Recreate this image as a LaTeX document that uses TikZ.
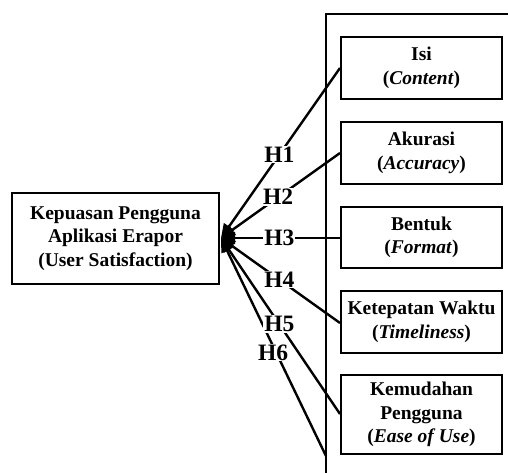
\documentclass[tikz,border=0pt]{standalone}
\usepackage{fontspec}
\setmainfont{Liberation Serif}
\usetikzlibrary{arrows.meta}
\begin{document}
\begin{tikzpicture}[x=1pt,y=-1pt,
  varbox/.style={draw,line width=2pt,minimum width=161pt,align=center,inner sep=0pt,
     font=\fontsize{19.5}{23.5}\selectfont\bfseries},
  conn/.style={line width=2.4pt,-{Triangle[length=14pt,width=12pt]}},
  hlab/.style={fill=white,inner sep=1pt,font=\fontsize{23.5}{23.5}\selectfont\bfseries}]
\useasboundingbox (0,0) rectangle (508,472);
\fill[white] (0,0) rectangle (508,472);
% frame
\draw[line width=2.6pt] (326,480) -- (326,14) -- (515,14);
% boxes
\node[varbox,minimum height=62pt] (isi) at (421.5,68) {Isi\\(\textit{Content})};
\node[varbox,minimum height=62pt] (aku) at (421.5,153) {Akurasi\\(\textit{Accuracy})};
\node[varbox,minimum height=61pt] (ben) at (421.5,237.5) {Bentuk\\(\textit{Format})};
\node[varbox,minimum height=62pt] (ket) at (421.5,322) {Ketepatan Waktu\\(\textit{Timeliness})};
\node[varbox,minimum height=79pt] (kem) at (421.5,414.5) {Kemudahan\\Pengguna\\(\textit{Ease of Use})};
\node[varbox,minimum width=207pt,minimum height=91pt] (sat) at (115.5,238.5) {Kepuasan Pengguna\\Aplikasi Erapor\\(User Satisfaction)};
\coordinate (tip) at (221,238);
\coordinate (f6) at (326,456);
% connectors
\draw[conn] (isi.west |- 0,68) -- node[hlab,pos=0.51] (h1) {H1} (tip);
\draw[conn] (aku.west |- 0,153) -- node[hlab,pos=0.52] (h2) {H2} (tip);
\draw[conn] (ben.west |- 0,238) -- node[hlab,pos=0.51] (h3) {H3} (tip);
\draw[conn] (ket.west |- 0,323) -- node[hlab,pos=0.51] (h4) {H4} (tip);
\draw[conn] (f6) -- node[hlab,pos=0.475,xshift=-3pt] (h6) {H6} (tip);
\draw[conn] (kem.west |- 0,414) -- node[hlab,pos=0.51] (h5) {H5} (tip);
\end{tikzpicture}
\end{document}
